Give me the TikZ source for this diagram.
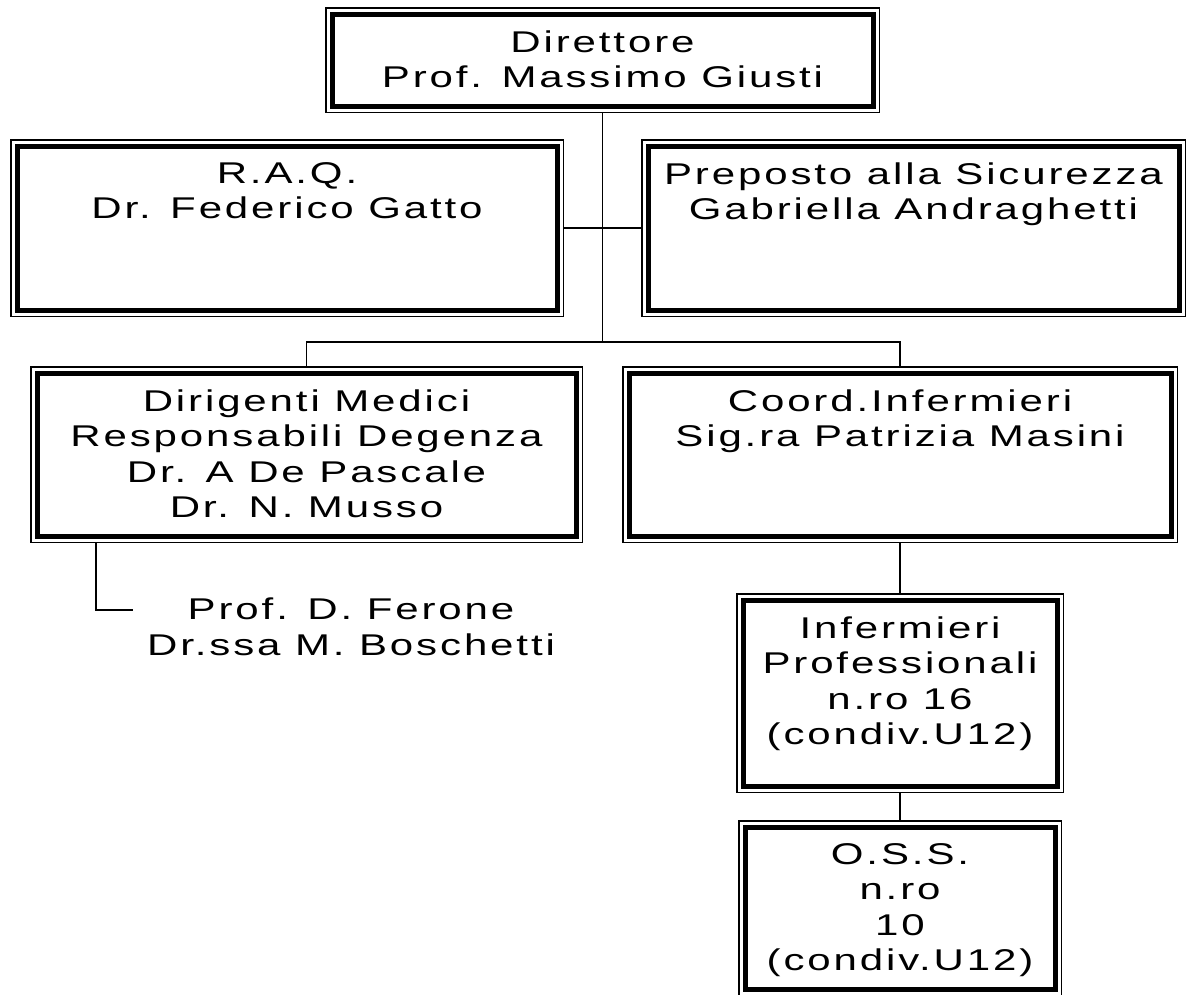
\documentclass[tikz,border=0pt]{standalone}
\usepackage{fontspec}
\setmainfont{Liberation Sans}[FakeStretch=1.40,LetterSpace=9.6]
\begin{document}
\begin{tikzpicture}[x=1pt,y=-1pt,
  box/.style={draw, rectangle, line width=1.5pt, inner sep=0pt, outer sep=0pt},
  innerline/.style={line width=5pt},
  conn/.style={line width=1.5pt},
  txt/.style={inner sep=0pt, align=center, anchor=north, font=\fontsize{30}{35.5}\selectfont}]
\useasboundingbox (0,0) rectangle (1186,994);
% boxes
\node[box, minimum width=553.5pt, minimum height=104.5pt] (dir) at (602.5,60) {};
\node[box, minimum width=552.5pt, minimum height=176.5pt] (raq) at (287,228) {};
\node[box, minimum width=543.5pt, minimum height=176.5pt] (prep) at (913.5,228) {};
\node[box, minimum width=551.5pt, minimum height=175.5pt] (dirig) at (306.5,454.5) {};
\node[box, minimum width=554.5pt, minimum height=175.5pt] (coord) at (900,454.5) {};
\node[box, minimum width=326.5pt, minimum height=198.5pt] (inf) at (900,693) {};
\node[box, minimum width=322.5pt, minimum height=175pt] (oss) at (900,908.25) {};
\foreach \n in {dir,raq,prep,dirig,coord,inf,oss}
  \draw[innerline] ([shift={(6.25pt,-6.25pt)}]\n.north west) rectangle ([shift={(-6.25pt,6.25pt)}]\n.south east);
% texts
\node[txt] (dirT) at ([yshift=-22.5pt]dir.north) {Direttore\\Prof. Massimo Giusti};
\node[txt] (raqT) at ([yshift=-22.5pt]raq.north) {R.A.Q.\\Dr. Federico Gatto};
\node[txt] (prepT) at ([yshift=-22.5pt]prep.north) {Preposto alla Sicurezza\\Gabriella Andraghetti};
\node[txt] (dirigT) at ([yshift=-22.5pt]dirig.north) {Dirigenti Medici\\Responsabili Degenza\\Dr. A De Pascale\\Dr. N. Musso};
\node[txt] (coordT) at ([yshift=-22.5pt]coord.north) {Coord.Infermieri\\Sig.ra Patrizia Masini};
\node[txt] (infT) at ([yshift=-22.5pt]inf.north) {Infermieri\\Professionali\\n.ro 16\\(condiv.U12)};
\node[txt] (ossT) at ([yshift=-22.5pt]oss.north) {O.S.S.\\n.ro\\10\\(condiv.U12)};
\node[txt] (ferT) at (351,598) {Prof. D. Ferone\\Dr.ssa M. Boschetti};
% connectors
\coordinate (j) at (602.5,342);
\coordinate (fer) at (133,610);
\draw[conn] (dir.south) -- (j);
\draw[conn] (raq.east) -- (prep.west);
\draw[conn] (dirig.north) |- (j) -| (coord.north);
\draw[conn] (coord.south) -- (inf.north);
\draw[conn] (inf.south) -- (oss.north);
\draw[conn] ([xshift=65pt]dirig.south west) |- (fer);
\end{tikzpicture}
\end{document}
